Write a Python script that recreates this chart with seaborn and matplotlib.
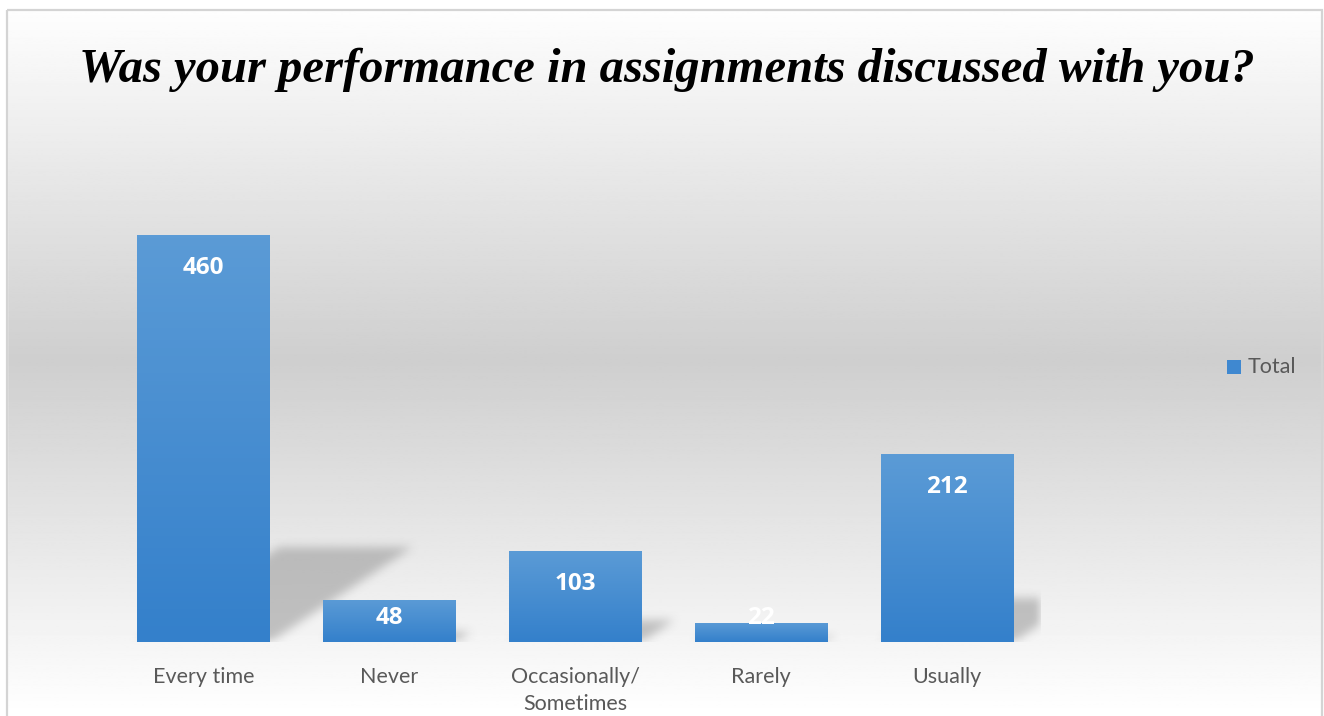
"""Excel-style bar chart: assignment performance feedback."""
import matplotlib
matplotlib.use("Agg")
import matplotlib.pyplot as plt
import seaborn as sns
import numpy as np
from matplotlib.colors import LinearSegmentedColormap
from matplotlib.patches import Rectangle

categories = ["Every time", "Never", "Occasionally/\nSometimes", "Rarely", "Usually"]
values = [460, 48, 103, 22, 212]
series_name = "Total"
title = "Was your performance in assignments discussed with you?"

W, H = 1324, 716
sns.set_theme(style="white")
plt.rcParams["font.family"] = ["Lato", "DejaVu Sans"]

fig = plt.figure(figsize=(W / 100, H / 100), dpi=100)

# background gradient (white - grey - white), inside a thin grey frame
bg = fig.add_axes([0, 0, 1, 1], zorder=0)
ys = np.linspace(0, 1, 400)
mid = 360 / H
shade = np.where(ys <= mid, ys / mid, 1 - (ys - mid) / (1 - mid))
grey = 1 - 0.19 * shade
img = np.repeat(grey[:, None], 2, axis=1)
bg.imshow(img, cmap="gray", vmin=0, vmax=1, aspect="auto",
          extent=[0, W, H, 0], origin="upper")
bg.set_xlim(0, W)
bg.set_ylim(H, 0)
bg.fill_between([0, W], 0, 10, color="white", zorder=2)
bg.fill_between([0, 7], 0, H, color="white", zorder=2)
bg.add_patch(Rectangle((7, 10), 1315, H, fill=False, edgecolor="#d4d4d4",
                       lw=1.6, zorder=3))
bg.axis("off")

# main axes
ax = fig.add_axes([110.5 / W, 74 / H, 929.5 / W, 442.5 / H], zorder=1)
ax.patch.set_alpha(0)
sns.barplot(x=categories, y=values, ax=ax, color="#4a8fd3", width=0.715,
            saturation=1, linewidth=0, zorder=3)
ax.set_xlim(-0.5, 4.5)
ax.set_ylim(0, 500)

# blurred perspective shadows, rasterised on the axes grid
nx, ny = 930, 443
gx = np.linspace(-0.5, 4.5, nx)
gy = np.linspace(0, 500, ny)
X, Y = np.meshgrid(gx, gy)
mask = np.zeros_like(X)
for patch, v in zip(ax.patches, values):
    x0 = patch.get_x()
    x1 = x0 + patch.get_width()
    sh = 0.233 * v
    s = 0.001663 * v
    off = s * Y / sh
    inside = (Y <= sh) & (X >= x0 + off) & (X <= x1 + off)
    mask = np.maximum(mask, inside.astype(float))


def box_blur(a, r, axis):
    k = np.ones(2 * r + 1) / (2 * r + 1)
    return np.apply_along_axis(lambda m: np.convolve(m, k, mode="same"), axis, a)


for _ in range(2):
    mask = box_blur(mask, 5, 0)
    mask = box_blur(mask, 5, 1)
shadow = np.zeros((ny, nx, 4))
shadow[..., :3] = 0.55
shadow[..., 3] = mask * 0.5
ax.imshow(shadow, extent=[-0.5, 4.5, 0, 500], origin="lower", aspect="auto",
          zorder=1, interpolation="bilinear")

bar_cmap = LinearSegmentedColormap.from_list("bar", ["#3480cb", "#5b9bd6"])
grad = np.linspace(0, 1, 100)[:, None]
for i, (patch, v) in enumerate(zip(ax.patches, values)):
    x0 = patch.get_x()
    x1 = x0 + patch.get_width()
    im = ax.imshow(grad, cmap=bar_cmap, extent=[x0, x1, 0, v], origin="lower",
                   aspect="auto", zorder=4)
    im.set_clip_path(patch)
    ax.text(i, max(v - 37, 27), str(v), ha="center", va="center",
            color="white", fontsize=17.5, fontweight="bold", zorder=5,
            family=["Open Sans", "DejaVu Sans"])

ax.set_xlim(-0.5, 4.5)
ax.set_ylim(0, 500)
ax.set_yticks([])
ax.set_xlabel("")
ax.set_ylabel("")
ax.tick_params(axis="x", length=0, pad=18, labelsize=15.5, labelcolor="#595959")
for lbl in ax.get_xticklabels():
    lbl.set_linespacing(1.45)
for sp in ax.spines.values():
    sp.set_visible(False)

fig.text(666.5 / W, 1 - 82 / H, title, ha="center", va="baseline",
         fontsize=35, fontweight="bold", fontstyle="italic",
         family=["Liberation Serif", "DejaVu Serif"], color="black")

# legend
fig.patches.append(Rectangle((1227 / W, 1 - 374 / H), 14 / W, 14 / H,
                             transform=fig.transFigure, facecolor="#3f88d0",
                             edgecolor="none"))
fig.text(1248 / W, 1 - 367 / H, series_name, ha="left", va="center",
         fontsize=15.5, color="#595959")

fig.savefig("out.png", dpi=100)
